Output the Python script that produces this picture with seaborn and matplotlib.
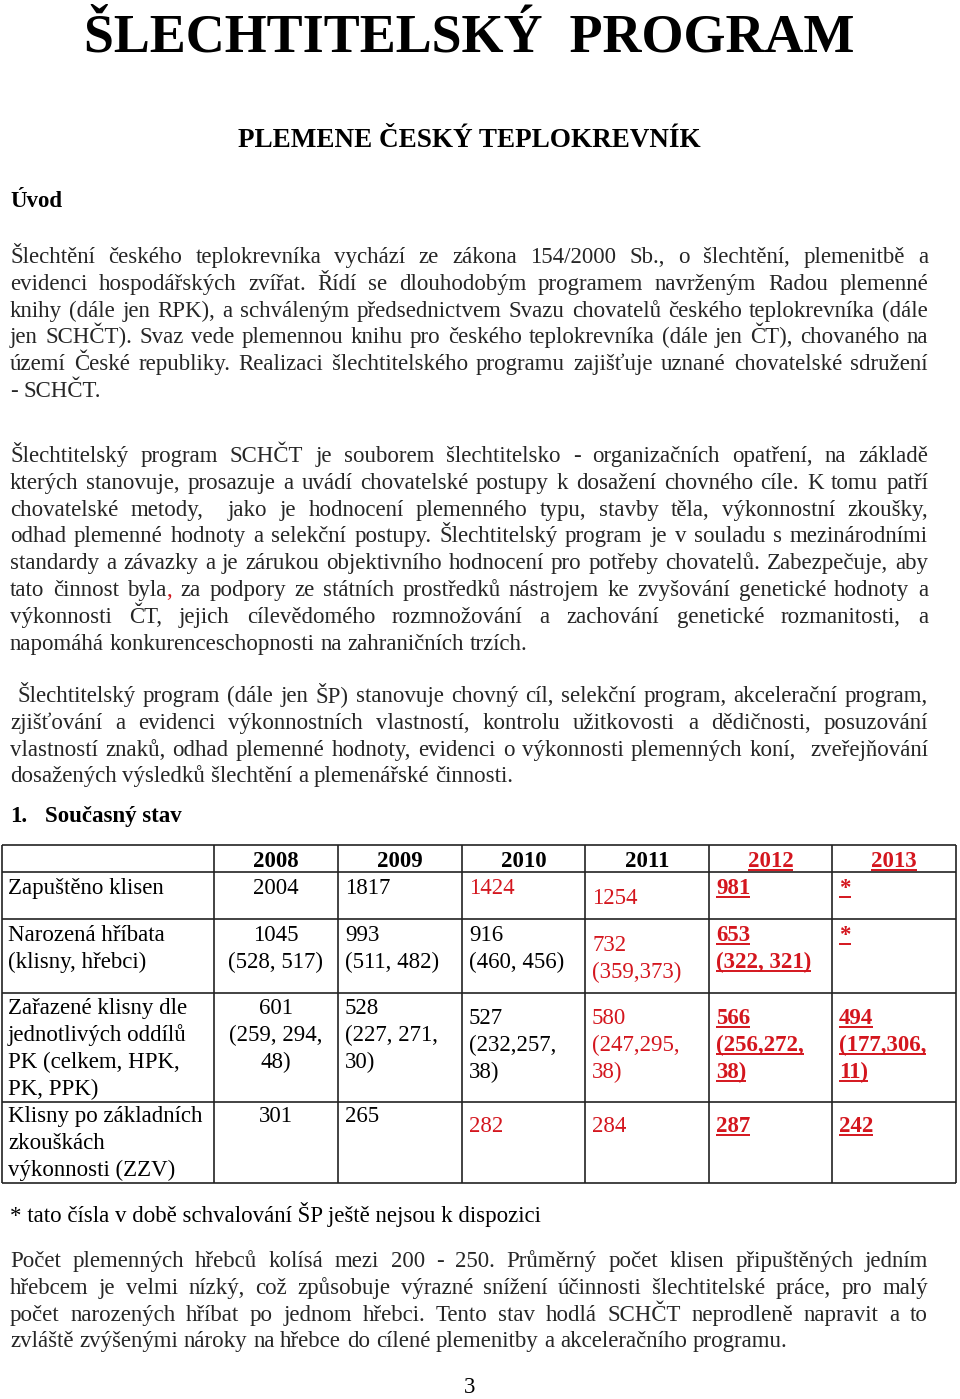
import matplotlib
matplotlib.use("Agg")
import matplotlib.pyplot as plt
import seaborn as sns

# --- text of the page ---
title = "ŠLECHTITELSKÝ  PROGRAM"
subtitle = "PLEMENE ČESKÝ TEPLOKREVNÍK"

para1 = [
    "Šlechtění českého teplokrevníka vychází ze zákona 154/2000 Sb., o šlechtění, plemenitbě a",
    "evidenci hospodářských zvířat. Řídí se dlouhodobým programem navrženým Radou plemenné",
    "knihy (dále jen RPK), a schváleným předsednictvem Svazu chovatelů českého teplokrevníka (dále",
    "jen SCHČT). Svaz vede plemennou knihu pro českého teplokrevníka (dále jen ČT), chovaného na",
    "území České republiky. Realizaci šlechtitelského programu zajišťuje uznané chovatelské sdružení",
    "- SCHČT.",
]
para2 = [
    "Šlechtitelský program SCHČT je souborem šlechtitelsko - organizačních opatření, na základě",
    "kterých stanovuje, prosazuje a uvádí chovatelské postupy k dosažení chovného cíle. K tomu patří",
    "chovatelské metody,  jako je hodnocení plemenného typu, stavby těla, výkonnostní zkoušky,",
    "odhad plemenné hodnoty a selekční postupy. Šlechtitelský program je v souladu s mezinárodními",
    "standardy a závazky a je zárukou objektivního hodnocení pro potřeby chovatelů. Zabezpečuje, aby",
    "tato činnost byla~, za podpory ze státních prostředků nástrojem ke zvyšování genetické hodnoty a",
    "výkonnosti ČT, jejich cílevědomého rozmnožování a zachování genetické rozmanitosti, a",
    "napomáhá konkurenceschopnosti na zahraničních trzích.",
]
para3 = [
    " Šlechtitelský program (dále jen ŠP) stanovuje chovný cíl, selekční program, akcelerační program,",
    "zjišťování a evidenci výkonnostních vlastností, kontrolu užitkovosti a dědičnosti, posuzování",
    "vlastností znaků, odhad plemenné hodnoty, evidenci o výkonnosti plemenných koní,  zveřejňování",
    "dosažených výsledků šlechtění a plemenářské činnosti.",
]
footnote = "* tato čísla v době schvalování ŠP ještě nejsou k dispozici"
para4 = [
    "Počet plemenných hřebců kolísá mezi 200 - 250. Průměrný počet klisen připuštěných jedním",
    "hřebcem je velmi nízký, což způsobuje výrazné snížení účinnosti šlechtitelské práce, pro malý",
    "počet narozených hříbat po jednom hřebci. Tento stav hodlá SCHČT neprodleně napravit a to",
    "zvláště zvýšenými nároky na hřebce do cílené plemenitby a akceleračního programu.",
]

# --- table data ---
years = ["2008", "2009", "2010", "2011", "2012", "2013"]
row_labels = [
    "Zapuštěno klisen",
    "Narozená hříbata\n(klisny, hřebci)",
    "Zařazené klisny dle\njednotlivých oddílů\nPK (celkem, HPK,\nPK, PPK)",
    "Klisny po základních\nzkouškách\nvýkonnosti (ZZV)",
]
zapusteno = ["2004", "1817", "1424", "1254", "981", "*"]
narozena = ["1045\n(528, 517)", "993\n(511, 482)", "916\n(460, 456)",
            "732\n(359,373)", "653\n(322, 321)", "*"]
zarazene = ["601\n(259, 294,\n48)", "528\n(227, 271,\n30)", "527\n(232,257,\n38)",
            "580\n(247,295,\n38)", "566\n(256,272,\n38)", "494\n(177,306,\n11)"]
zzv = ["301", "265", "282", "284", "287", "242"]
table = [zapusteno, narozena, zarazene, zzv]

RED = "#d4161e"
FS = 16.5
LH = 26.8

sns.set_theme(style="white")
plt.rcParams["font.family"] = ["Liberation Serif", "DejaVu Serif"]

fig = plt.figure(figsize=(9.6, 13.99), dpi=100)
ax = fig.add_axes([0, 0, 1, 1])
ax.set_xlim(0, 960)
ax.set_ylim(1399, 0)
ax.axis("off")
renderer = fig.canvas.get_renderer()


def width(t):
    return t.get_window_extent(renderer).width


def put(x, y, s, color="black", weight="normal", ha="left", size=FS, underline=False):
    t = ax.text(x, y, s, fontsize=size, color=color, fontweight=weight, ha=ha, va="baseline")
    if underline and s.strip():
        w = width(ax.text(0, 0, s, fontsize=size, fontweight=weight, alpha=0))
        x0 = x - w / 2 if ha == "center" else x
        ax.plot([x0, x0 + w], [y + 3, y + 3], color=color, lw=1.4, solid_capstyle="butt")
    return t


def line(s, y, x0=10, x1=928, justify=True):
    # place words one by one so the line fills x0..x1 (justified text)
    words = s.split(" ")
    texts = []
    for w in words:
        segs = w.split("~")
        ts = [ax.text(0, y, segs[0], fontsize=FS, va="baseline")]
        if len(segs) > 1:
            ts.append(ax.text(0, y, segs[1], fontsize=FS, va="baseline", color=RED))
        texts.append(ts)
    ws = [sum(width(t) for t in ts) if ts[0].get_text() or len(ts) > 1 else 0 for ts in texts]
    space = FS * 100 / 72 * 0.25
    gap = (x1 - x0 - sum(ws)) / (len(ws) - 1) if justify and len(ws) > 1 else space
    x = x0
    for ts, w in zip(texts, ws):
        xx = x
        for t in ts:
            t.set_x(xx)
            xx += width(t)
        x += w + gap


def paragraph(lines, y0):
    for i, s in enumerate(lines):
        line(s, y0 + i * LH, justify=(i < len(lines) - 1))


# headings
put(469, 52, title, weight="bold", ha="center", size=38.9)
put(469, 147, subtitle, weight="bold", ha="center", size=19.5)
put(10, 207, "Úvod", weight="bold")

paragraph(para1, 263)
paragraph(para2, 462)
paragraph(para3, 702)
put(10, 822, "1.", weight="bold")
put(45, 822, "Současný stav", weight="bold")

# table grid
col_x = [2, 214, 338, 462, 585, 709, 832, 956]
row_y = [845, 872, 919, 993, 1102, 1183]
ax.hlines(row_y, col_x[0], col_x[-1], color="#222222", lw=1.2)
ax.vlines(col_x, row_y[0], row_y[-1], color="#222222", lw=1.2)

# header
for j, yr in enumerate(years):
    cx = (col_x[j + 1] + col_x[j + 2]) / 2
    hl = j >= 4
    put(cx, 867, yr, color=RED if hl else "black", weight="bold", ha="center", underline=hl)

row_base = [894, 941, 1014, 1122]
lowered = {(0, 3), (1, 3), (2, 2), (2, 3), (2, 4), (2, 5), (3, 2), (3, 3), (3, 4), (3, 5)}
red_cells = {(0, 2), (3, 2)}

for r, lab in enumerate(row_labels):
    for k, s in enumerate(lab.split("\n")):
        put(8, row_base[r] + k * 27, s)
    for j, val in enumerate(table[r]):
        y0 = row_base[r] + (10 if (r, j) in lowered else 0)
        hl = j >= 4
        red = hl or j == 3 or (r, j) in red_cells
        for k, s in enumerate(val.split("\n")):
            if j == 0:
                put((col_x[1] + col_x[2]) / 2, y0 + k * 27, s, ha="center")
            else:
                put(col_x[j + 1] + 7, y0 + k * 27, s, color=RED if red else "black",
                    weight="bold" if hl else "normal", underline=hl)

put(10, 1222, footnote)
paragraph(para4, 1267)
put(470, 1393, "3", ha="center")

fig.savefig("out.png", dpi=100)
